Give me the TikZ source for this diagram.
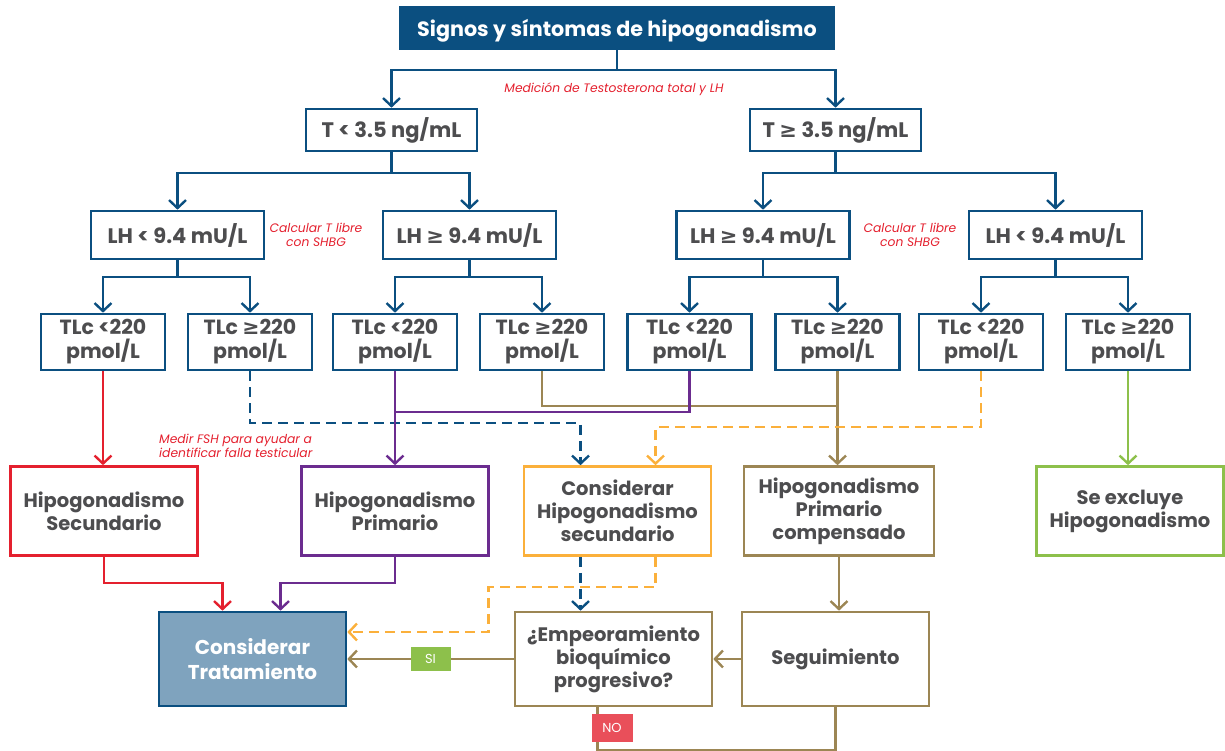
\documentclass[tikz,border=0pt]{standalone}
\usepackage{fontspec}
\setmainfont{Poppins}
\newfontfamily\symfont{DejaVu Sans}
\usetikzlibrary{arrows.meta}

\definecolor{navy}{HTML}{0B4F80}
\definecolor{redc}{HTML}{E4202E}
\definecolor{purp}{HTML}{6B2C8F}
\definecolor{yell}{HTML}{FBB03B}
\definecolor{tan}{HTML}{9C8654}
\definecolor{grn}{HTML}{8DC04B}
\definecolor{steel}{HTML}{7FA3BE}
\definecolor{txt}{HTML}{4D4D4F}
\definecolor{nored}{HTML}{E94F5A}

\newcommand{\gesym}{{\symfont\char"2265}}

\tikzset{
  box/.style={draw=navy, line width=2.6pt, fill=white, text=txt, align=center,
    inner sep=2pt, font=\fontsize{19.5}{23}\selectfont\bfseries},
  tbox/.style={box, minimum width=124pt, minimum height=56pt, font=\fontsize{20.5}{24}\selectfont\bfseries},
  lhbox/.style={box, minimum width=173pt, minimum height=48pt, font=\fontsize{21}{24}\selectfont\bfseries},
  big/.style={box, minimum width=187pt, minimum height=89pt},
  low/.style={box, draw=tan, minimum width=187pt, minimum height=94pt},
  note/.style={text=redc, font=\fontsize{12.3}{14}\selectfont\itshape, inner sep=0pt},
  ln/.style={line width=2.4pt, draw=#1, -{Straight Barb[length=8pt,width=17pt,line width=2.4pt]}},
  plain/.style={line width=2.4pt, draw=#1},
  dsh/.style={dash pattern=on 10pt off 6pt},
  tag/.style={text=white, font=\fontsize{13}{15}\selectfont, inner sep=0pt}
}

\begin{document}
\begin{tikzpicture}[x=1pt, y=-1pt]
\useasboundingbox (0,0) rectangle (1225,751);

\node[box, fill=navy, text=white, minimum width=434pt, minimum height=41pt,
  font=\fontsize{20.7}{24}\selectfont\bfseries] (title) at (617,28) {\raisebox{-3pt}[\height][\depth]{Signos y síntomas de hipogonadismo}};

\node[lhbox, minimum width=171pt, minimum height=42pt] (tl) at (391.5,130) {T < 3.5 ng/mL};
\node[lhbox, minimum width=171pt, minimum height=42pt] (tg) at (835.5,130) {T \gesym{} 3.5 ng/mL};

\node[lhbox] (lh1) at (177.5,235) {LH < 9.4 mU/L};
\node[lhbox] (lh2) at (469.5,235) {LH \gesym{} 9.4 mU/L};
\node[lhbox] (lh3) at (763,235) {LH \gesym{} 9.4 mU/L};
\node[lhbox] (lh4) at (1055.5,235) {LH < 9.4 mU/L};

\node[tbox] (tlc1) at (103,342) {TLc <220\\pmol/L};
\node[tbox] (tlc2) at (250,342) {TLc \gesym220\\pmol/L};
\node[tbox] (tlc3) at (395,342) {TLc <220\\pmol/L};
\node[tbox] (tlc4) at (542,342) {TLc \gesym220\\pmol/L};
\node[tbox] (tlc5) at (689.5,342) {TLc <220\\pmol/L};
\node[tbox] (tlc6) at (837.5,342) {TLc \gesym220\\pmol/L};
\node[tbox] (tlc7) at (981,342) {TLc <220\\pmol/L};
\node[tbox] (tlc8) at (1128,342) {TLc \gesym220\\pmol/L};

\node[big, draw=redc] (sec) at (104,511) {Hipogonadismo\\Secundario};
\node[big, draw=purp] (pri) at (395,511) {Hipogonadismo\\Primario};
\node[big, draw=yell] (csec) at (617.5,511) {Considerar\\Hipogonadismo\\secundario};
\node[big, draw=tan, minimum width=190pt] (comp) at (839,511) {Hipogonadismo\\Primario\\compensado};
\node[big, draw=grn] (excl) at (1130,511) {Se excluye\\Hipogonadismo};

\node[low, draw=navy, fill=steel, text=white, font=\fontsize{20}{25}\selectfont\bfseries] (trat) at (252.5,659) {Considerar\\Tratamiento};
\node[low, minimum width=197pt] (emp) at (613.5,659) {¿Empeoramiento\\bioquímico\\progresivo?};
\node[low] (seg) at (835.5,659) {Seguimiento};

\node[note] (n1) at (614,89) {Medición de Testosterona total y LH};
\node[note, align=center] (n2) at (316,235) {Calcular T libre\\con SHBG};
\node[note, align=center] (n3) at (910,235) {Calcular T libre\\con SHBG};
\node[note, align=left, anchor=west] (n4) at (159,446) {Medir FSH para ayudar a\\identificar falla testicular};

% arbol superior
\draw[ln=navy] (title) -- ++(0,42) -| (tl);
\draw[ln=navy] (title) -- ++(0,42) -| (tg);
\draw[ln=navy] (tl) -- ++(0,43) -| (lh1);
\draw[ln=navy] (tl) -- ++(0,43) -| (lh2);
\draw[ln=navy] (tg) -- ++(0,43) -| (lh3);
\draw[ln=navy] (tg) -- ++(0,43) -| (lh4);
\draw[ln=navy] (lh1) -- ++(0,42) -| (tlc1);
\draw[ln=navy] (lh1) -- ++(0,42) -| (tlc2);
\draw[ln=navy] (lh2) -- ++(0,42) -| (tlc3);
\draw[ln=navy] (lh2) -- ++(0,42) -| (tlc4);
\draw[ln=navy] (lh3) -- ++(0,42) -| (tlc5);
\draw[ln=navy] (lh3) -- ++(0,42) -| (tlc6);
\draw[ln=navy] (lh4) -- ++(0,42) -| (tlc7);
\draw[ln=navy] (lh4) -- ++(0,42) -| (tlc8);

% hacia los diagnosticos
\draw[ln=redc] (tlc1.south) -- (tlc1.south |- sec.north);
\draw[ln=navy, dsh] (tlc2) -- ++(0,81) -| ([xshift=-37pt]csec.north);
\draw[plain=tan] (tlc4) -- ++(0,64) -| (tlc6);
\draw[plain=purp] (tlc5) -- ++(0,70) -| (tlc3);
\draw[ln=purp] (tlc3) -- (pri);
\draw[ln=tan] (tlc6.south) -- (tlc6.south |- comp.north);
\draw[ln=yell, dsh] (tlc7) -- ++(0,85) -| ([xshift=38pt]csec.north);
\draw[ln=grn] (tlc8.south) -- (tlc8.south |- excl.north);

% parte inferior
\draw[ln=redc] (sec) -- ++(0,72) -| ([xshift=-30pt]trat.north);
\draw[ln=purp] (pri) -- ++(0,72) -| ([xshift=28pt]trat.north);
\draw[ln=navy, dsh] ([xshift=-37pt]csec.south) -- ([xshift=-37pt]csec.south |- emp.north);
\draw[ln=yell, dsh] ([xshift=38pt]csec.south) -- ++(0,30) -- ++(-167,0) |- ([yshift=27pt]trat.east);
\draw[ln=tan] (comp.south) -- (comp.south |- seg.north);
\draw[ln=tan] (seg) -- (emp);
\draw[ln=tan] (emp) -- (trat) node[tag, midway, fill=grn, minimum width=40pt, minimum height=24pt] (si) {SI};
\draw[plain=tan] ([xshift=-16pt]emp.south) -- ++(0,43) -| (seg.south);
\node[tag, fill=nored, minimum width=41pt, minimum height=28pt] (no) at (612,728) {NO};
\end{tikzpicture}
\end{document}
